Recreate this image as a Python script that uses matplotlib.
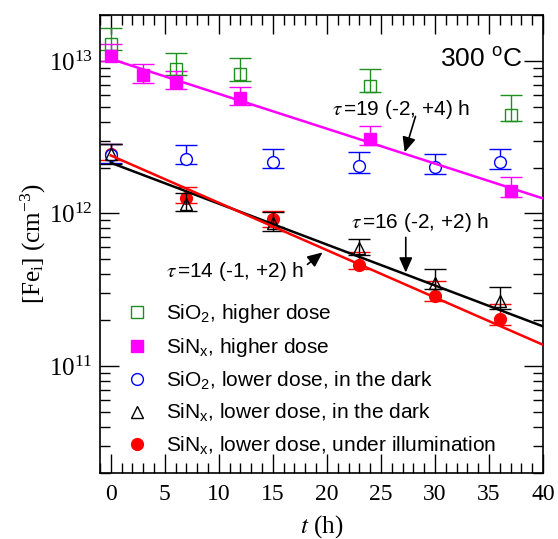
import numpy as np
import matplotlib
matplotlib.use('Agg')
import matplotlib.pyplot as plt
from matplotlib.ticker import MultipleLocator, LogLocator, NullFormatter

plt.rcParams['font.family'] = ['Liberation Sans', 'DejaVu Sans']
plt.rcParams['mathtext.fontset'] = 'stix'
plt.rcParams['mathtext.default'] = 'regular'

# SiO2, higher dose
t_sio2_hi = [0, 6, 12, 24, 37]
fe_sio2_hi = [1.29e13, 8.9e12, 8.2e12, 6.9e12, 4.45e12]
lo_sio2_hi = [1.1e12, 0.8e12, 0.8e12, 0.6e12, 0.4e12]
hi_sio2_hi = [3.5e12, 2.3e12, 2.2e12, 2.0e12, 1.5e12]

# SiNx, higher dose
t_sinx_hi = [0, 3, 6, 12, 24, 37]
fe_sinx_hi = [1.08e13, 8.1e12, 7.3e12, 5.7e12, 3.1e12, 1.41e12]
lo_sinx_hi = [0.8e12, 0.9e12, 0.76e12, 0.54e12, 0.29e12, 0.13e12]
hi_sinx_hi = [2.2e12, 1.4e12, 1.3e12, 1.07e12, 0.64e12, 0.32e12]

# SiO2, lower dose, dark
t_sio2_lo = [0, 7, 15, 23, 30, 36]
fe_sio2_lo = [2.42e12, 2.29e12, 2.18e12, 2.06e12, 2.02e12, 2.19e12]
lo_sio2_lo = [0.29e12, 0.19e12, 0.2e12, 0.21e12, 0.2e12, 0.24e12]
hi_sio2_lo = [0.45e12, 0.51e12, 0.48e12, 0.47e12, 0.45e12, 0.45e12]

# SiNx, lower dose, dark
t_sinx_dark = [0, 7, 15, 23, 30, 36]
fe_sinx_dark = [2.45e12, 1.16e12, 8.6e11, 5.97e11, 3.52e11, 2.66e11]
lo_sinx_dark = [0.35e12, 0.12e12, 0.94e11, 0.66e11, 0.34e11, 0.31e11]
hi_sinx_dark = [0.4e12, 0.21e12, 1.6e11, 0.87e11, 0.78e11, 0.63e11]

# SiNx, lower dose, illumination
t_sinx_ill = [0, 7, 15, 23, 30, 36]
fe_sinx_ill = [2.45e12, 1.27e12, 9.14e11, 4.63e11, 2.90e11, 2.02e11]
lo_sinx_ill = [0.2e12, 0.09e12, 0.94e11, 0.33e11, 0.24e11, 0.17e11]
hi_sinx_ill = [0.4e12, 0.22e12, 1.26e11, 0.95e11, 0.7e11, 0.55e11]

# exponential fits: N0, tau (h)
fit_sinx_hi = (1.03e13, 19.0)
fit_sinx_dark = (2.15e12, 16.2)
fit_sinx_ill = (2.40e12, 14.0)

fig = plt.figure(figsize=(5.58, 5.39), dpi=100)
ax = fig.add_axes([0.1792, 0.1230, 0.7939, 0.8492])

eb = dict(capsize=8, elinewidth=1, capthick=1, markeredgewidth=1, ms=8.5, ls='none')
h1 = ax.errorbar(t_sio2_hi, fe_sio2_hi, yerr=[lo_sio2_hi, hi_sio2_hi], fmt='s',
                 mfc='none', mec='#1f8f1f', ecolor='#1f8f1f', zorder=2, **eb)
h2 = ax.errorbar(t_sinx_hi, fe_sinx_hi, yerr=[lo_sinx_hi, hi_sinx_hi], fmt='s',
                 mfc='#ff00ff', mec='#ff00ff', ecolor='#ff00ff', zorder=2, **eb)
h5 = ax.errorbar(t_sinx_ill, fe_sinx_ill, yerr=[lo_sinx_ill, hi_sinx_ill], fmt='o',
                 mfc='#ff0000', mec='#ff0000', ecolor='#ff0000', zorder=2, **eb)
h3 = ax.errorbar(t_sio2_lo, fe_sio2_lo, yerr=[lo_sio2_lo, hi_sio2_lo], fmt='o',
                 mfc='white', mec='#0000ff', ecolor='#0000ff', zorder=3, **eb)
h4 = ax.errorbar(t_sinx_dark, fe_sinx_dark, yerr=[lo_sinx_dark, hi_sinx_dark], fmt='^',
                 mfc='none', mec='black', ecolor='black', zorder=3, **eb)

tt = np.linspace(0, 40, 100)
for (n0, tau), c in [(fit_sinx_hi, '#ff00ff'), (fit_sinx_dark, 'black'), (fit_sinx_ill, '#ff0000')]:
    ax.plot(tt, n0 * np.exp(-tt / tau), color=c, lw=1.8, zorder=4)

ax.set_yscale('log')
ax.set_xlim(-1, 40)
ax.set_ylim(2e10, 2e13)
ax.xaxis.set_major_locator(MultipleLocator(5))
ax.xaxis.set_minor_locator(MultipleLocator(1))
ax.yaxis.set_minor_locator(LogLocator(base=10, subs=np.arange(2, 10)))
ax.yaxis.set_minor_formatter(NullFormatter())
ax.tick_params(which='both', direction='in', top=True, right=True, width=1)
ax.tick_params(which='major', length=14)
ax.tick_params(which='minor', length=7)
ax.tick_params(axis='x', pad=8)
ax.tick_params(axis='y', pad=5)
for lab in ax.get_xticklabels():
    lab.set_fontfamily('Liberation Serif')
    lab.set_fontsize(17)
for lab in ax.get_yticklabels():
    lab.set_fontfamily('Liberation Serif')
    lab.set_fontsize(18)
for s in ax.spines.values():
    s.set_linewidth(1.2)

ax.set_xlabel(r'$\mathit{t}$ (h)', fontfamily='Liberation Serif', fontsize=18, labelpad=6)
ax.set_ylabel(r'[Fe$_{i}$] (cm$^{-3}$)', fontfamily='Liberation Serif', fontsize=18, labelpad=1)

ax.text(0.953, 0.902, '300 $^{o}$C', transform=ax.transAxes, ha='right', va='center', fontsize=19)

arr = dict(arrowstyle='-|>,head_length=0.9,head_width=0.4', color='black', lw=1.2,
           shrinkA=0, shrinkB=0)
ax.text(20.5, 4.82e12, r'$\mathit{\tau}\,$=19 (-2, +4) h', fontsize=15, va='center')
ax.annotate('', xy=(27.2, 2.52e12), xytext=(28.2, 4.33e12), arrowprops=arr)
ax.text(22.2, 8.75e11, r'$\mathit{\tau}\,$=16 (-2, +2) h', fontsize=15, va='center')
ax.annotate('', xy=(27.3, 4.1e11), xytext=(27.3, 6.97e11), arrowprops=arr)
ax.text(5.1, 4.19e11, r'$\mathit{\tau}\,$=14 (-1, +2) h', fontsize=15, va='center')
ax.annotate('', xy=(19.6, 5.56e11), xytext=(18.2, 4.64e11), arrowprops=arr)

labels = ['SiO$_2$, higher dose', 'SiN$_x$, higher dose', 'SiO$_2$, lower dose, in the dark',
          'SiN$_x$, lower dose, in the dark', 'SiN$_x$, lower dose, under illumination']
ax.legend([h1[0], h2[0], h3[0], h4[0], h5[0]], labels, loc='upper left',
          bbox_to_anchor=(0.059, 0.372), frameon=False, fontsize=15, borderpad=0,
          borderaxespad=0, handlelength=1.0, handletextpad=0.9, labelspacing=0.5)

fig.savefig('out.png', dpi=100)
